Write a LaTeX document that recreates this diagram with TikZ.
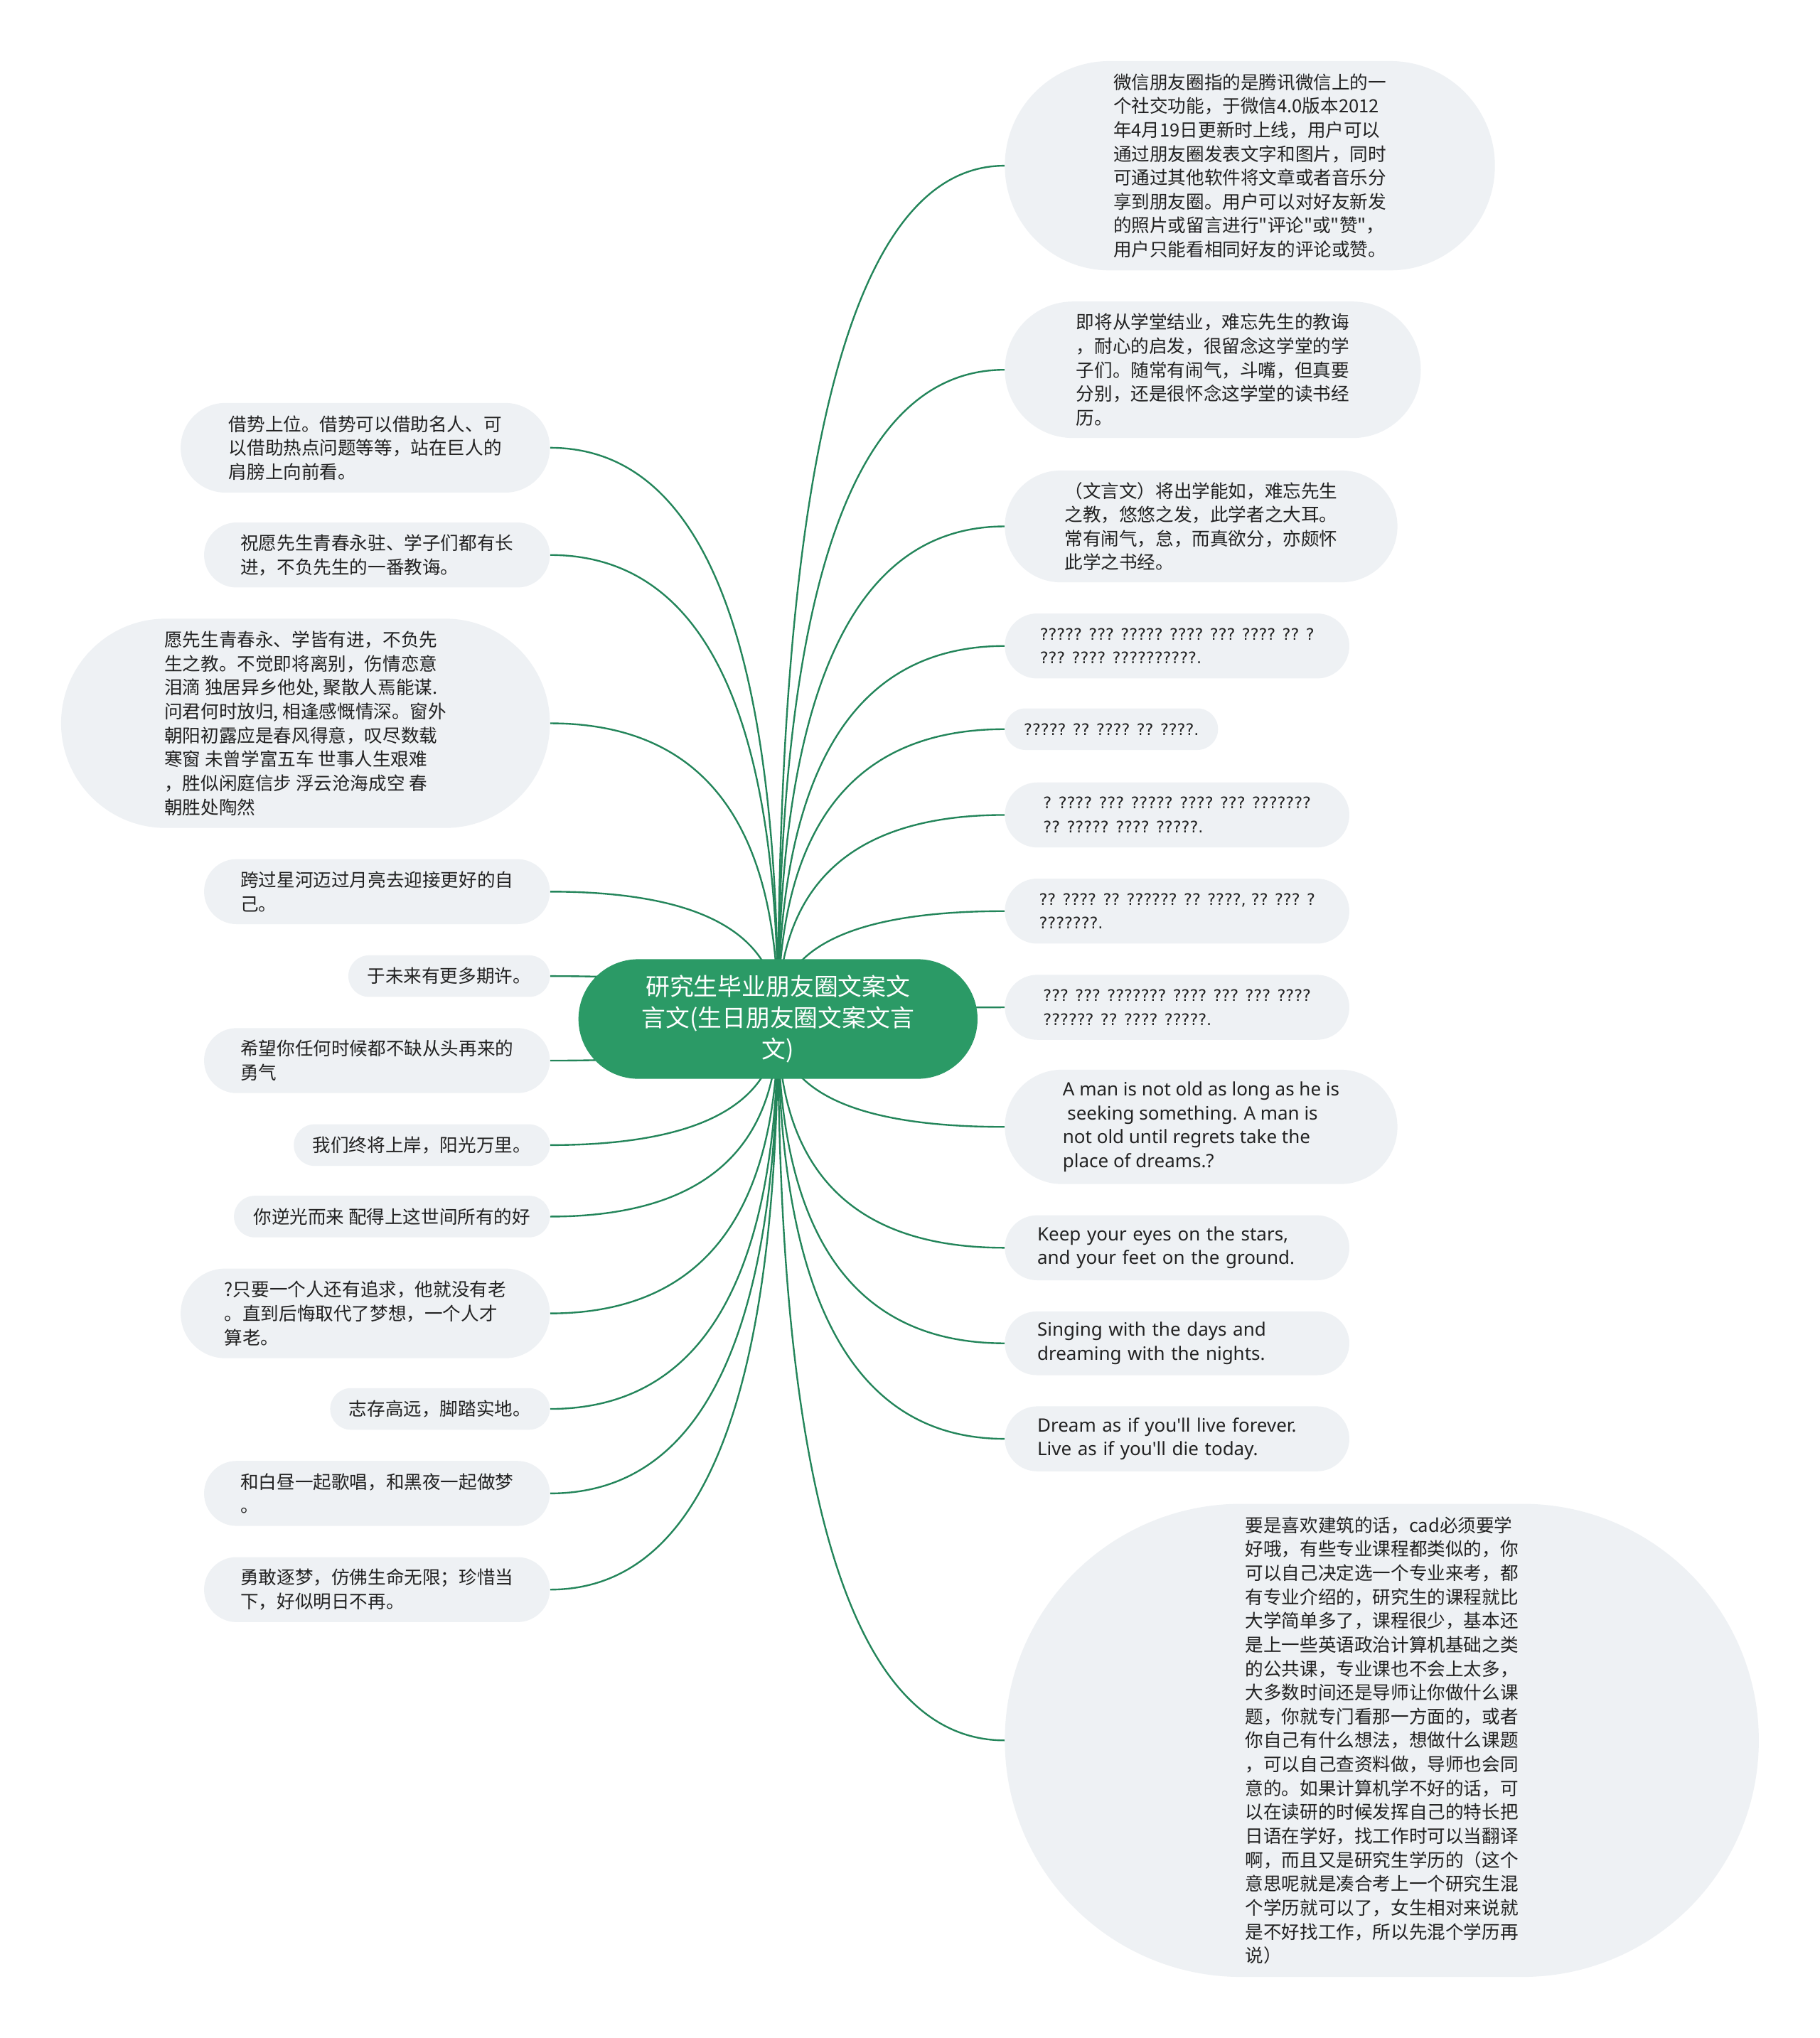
\documentclass[tikz,border=0pt]{standalone}
\usepackage{fontspec}
\setmainfont{Noto Sans CJK SC}
\newfontfamily\zhfont{Noto Sans CJK SC}
\newfontfamily\enfont{Noto Sans}
\newfontfamily\qmfont{DejaVu Sans}
\usetikzlibrary{positioning,calc,backgrounds,shapes.misc}
\definecolor{leafbg}{HTML}{EEF1F4}
\definecolor{rootbg}{HTML}{2B9A66}
\definecolor{stem}{HTML}{23855A}
\definecolor{ink}{HTML}{222222}
\newcommand{\branch}[2]{\draw[stemline] (#1) .. controls ($(#1)!2/3!(#1 |- #2)$) and ($(#2)!2/3!(#1 |- #2)$) .. (#2);}
\tikzset{
  root/.style    ={rounded rectangle, fill=rootbg, text=white, align=center, inner sep=0pt, font=\zhfont\fontsize{18.5}{24}\selectfont},
  leaf/.style    ={rounded rectangle, fill=leafbg, text=ink, align=left, inner sep=0pt, font=\zhfont\fontsize{14}{18.4}\selectfont},
  leafen/.style  ={leaf, font=\enfont\fontsize{14.2}{18.4}\selectfont},
  leafq/.style   ={leaf, font=\qmfont\fontsize{12.2}{18.4}\selectfont},
  stemline/.style={draw=stem, line width=1.3pt},
}

\begin{document}
\begin{tikzpicture}[x=1pt,y=-1pt]
  \useasboundingbox (0,0) rectangle (1400,1568);

  \node[root, minimum width=307pt, minimum height=92pt] (root) at (598.5,784)
    {研究生毕业朋友圈文案文\\言文(生日朋友圈文案文言\\文)};

  % right side
  \node[leaf, minimum width=377pt, minimum height=161pt] (r1) at (961.5,127.5)
    {微信朋友圈指的是腾讯微信上的一\\个社交功能，于微信4.0版本2012\\年4月19日更新时上线，用户可以\\通过朋友圈发表文字和图片，同时\\可通过其他软件将文章或者音乐分\\享到朋友圈。用户可以对好友新发\\的照片或留言进行"评论"或"赞"，\\用户只能看相同好友的评论或赞。};
  \node[leaf, minimum width=320pt, minimum height=105pt] (r2) at (933,284.5)
    {即将从学堂结业，难忘先生的教诲\\，耐心的启发，很留念这学堂的学\\子们。随常有闹气，斗嘴，但真要\\分别，还是很怀念这学堂的读书经\\历。};
  \node[leaf, minimum width=302pt, minimum height=86pt] (r3) at (924,405)
    {（文言文）将出学能如，难忘先生\\之教，悠悠之发，此学者之大耳。\\常有闹气，怠，而真欲分，亦颇怀\\此学之书经。};
  \node[leafq, minimum width=265pt, minimum height=50pt] (r4) at (905.5,497)
    {????? ??? ????? ???? ??? ???? ?? ?\\??? ???? ??????????.};
  \node[leafq, minimum width=164pt, minimum height=32pt] (r5) at (855,561)
    {????? ?? ???? ?? ????.};
  \node[leafq, minimum width=265pt, minimum height=50pt] (r6) at (905.5,627)
    {? ???? ??? ????? ???? ??? ???????\\?? ????? ???? ?????.};
  \node[leafq, minimum width=265pt, minimum height=50pt] (r7) at (905.5,701)
    {?? ???? ?? ?????? ?? ????, ?? ??? ?\\???????.};
  \node[leafq, minimum width=265pt, minimum height=50pt] (r8) at (905.5,775)
    {??? ??? ??????? ???? ??? ??? ????\\?????? ?? ???? ?????.};
  \node[leafen, minimum width=302pt, minimum height=88pt] (r9) at (924,867)
    {A man is not old as long as he is\\\hspace*{3.5pt}seeking something. A man is\\not old until regrets take the\\place of dreams.?};
  \node[leafen, text width=215pt, minimum width=265pt, minimum height=50pt] (r10) at (905.5,960)
    {Keep your eyes on the stars,\\and your feet on the ground.};
  \node[leafen, text width=215pt, minimum width=265pt, minimum height=49pt] (r11) at (905.5,1033.5)
    {Singing with the days and\\dreaming with the nights.};
  \node[leafen, text width=215pt, minimum width=265pt, minimum height=50pt] (r12) at (905.5,1107)
    {Dream as if you'll live forever.\\Live as if you'll die today.};
  \node[leaf, minimum width=580pt, minimum height=364pt] (r13) at (1063,1339)
    {要是喜欢建筑的话，cad必须要学\\好哦，有些专业课程都类似的，你\\可以自己决定选一个专业来考，都\\有专业介绍的，研究生的课程就比\\大学简单多了，课程很少，基本还\\是上一些英语政治计算机基础之类\\的公共课，专业课也不会上太多，\\大多数时间还是导师让你做什么课\\题，你就专门看那一方面的，或者\\你自己有什么想法，想做什么课题\\，可以自己查资料做，导师也会同\\意的。如果计算机学不好的话，可\\以在读研的时候发挥自己的特长把\\日语在学好，找工作时可以当翻译\\啊，而且又是研究生学历的（这个\\意思呢就是凑合考上一个研究生混\\个学历就可以了，女生相对来说就\\是不好找工作，所以先混个学历再\\说）};

  % left side
  \node[leaf, minimum width=284pt, minimum height=69pt] (l1) at (281,344.5)
    {借势上位。借势可以借助名人、可\\以借助热点问题等等，站在巨人的\\肩膀上向前看。};
  \node[leaf, minimum width=266pt, minimum height=50pt] (l2) at (290,427)
    {祝愿先生青春永驻、学子们都有长\\进，不负先生的一番教诲。};
  \node[leaf, minimum width=376pt, minimum height=161pt] (l3) at (235,556.5)
    {愿先生青春永、学皆有进，不负先\\生之教。不觉即将离别，伤情恋意\\泪滴 独居异乡他处, 聚散人焉能谋.\\问君何时放归, 相逢感慨情深。窗外\\朝阳初露应是春风得意，叹尽数载\\寒窗 未曾学富五车 世事人生艰难\\，胜似闲庭信步 浮云沧海成空 春\\朝胜处陶然};
  \node[leaf, minimum width=266pt, minimum height=50pt] (l4) at (290,686)
    {跨过星河迈过月亮去迎接更好的自\\己。};
  \node[leaf, minimum width=155pt, minimum height=32pt] (l5) at (345.5,751)
    {于未来有更多期许。};
  \node[leaf, minimum width=266pt, minimum height=50pt] (l6) at (290,816)
    {希望你任何时候都不缺从头再来的\\勇气};
  \node[leaf, minimum width=197pt, minimum height=32pt] (l7) at (324.5,881)
    {我们终将上岸，阳光万里。};
  \node[leaf, minimum width=243pt, minimum height=32pt] (l8) at (301.5,936)
    {你逆光而来 配得上这世间所有的好};
  \node[leaf, minimum width=284pt, minimum height=69pt] (l9) at (281,1010.5)
    {?只要一个人还有追求，他就没有老\\。直到后悔取代了梦想，一个人才\\算老。};
  \node[leaf, minimum width=169pt, minimum height=32pt] (l10) at (338.5,1084)
    {志存高远，脚踏实地。};
  \node[leaf, minimum width=266pt, minimum height=50pt] (l11) at (290,1149)
    {和白昼一起歌唱，和黑夜一起做梦\\。};
  \node[leaf, minimum width=266pt, minimum height=50pt] (l12) at (290,1223)
    {勇敢逐梦，仿佛生命无限；珍惜当\\下，好似明日不再。};

  \begin{scope}[on background layer]
    \fill[white] (0,0) rectangle (1400,1568);
    \branch{root.center}{r1.west}
    \branch{root.center}{r2.west}
    \branch{root.center}{r3.west}
    \branch{root.center}{r4.west}
    \branch{root.center}{r5.west}
    \branch{root.center}{r6.west}
    \branch{root.center}{r7.west}
    \branch{root.center}{r8.west}
    \branch{root.center}{r9.west}
    \branch{root.center}{r10.west}
    \branch{root.center}{r11.west}
    \branch{root.center}{r12.west}
    \branch{root.center}{r13.west}
    \branch{root.center}{l1.east}
    \branch{root.center}{l2.east}
    \branch{root.center}{l3.east}
    \branch{root.center}{l4.east}
    \branch{root.center}{l5.east}
    \branch{root.center}{l6.east}
    \branch{root.center}{l7.east}
    \branch{root.center}{l8.east}
    \branch{root.center}{l9.east}
    \branch{root.center}{l10.east}
    \branch{root.center}{l11.east}
    \branch{root.center}{l12.east}
  \end{scope}
\end{tikzpicture}
\end{document}
